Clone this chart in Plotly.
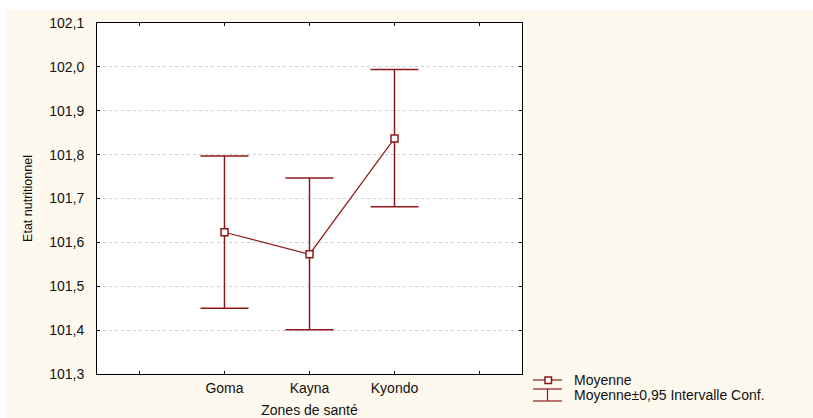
import plotly.graph_objects as go

# ---- data ----
zones = ["Goma", "Kayna", "Kyondo"]
axis_categories = [" ", "Goma", "Kayna", "Kyondo", "  "]
moyenne = [101.623, 101.573, 101.837]
ic_haut = [101.797, 101.747, 101.994]
ic_bas = [101.450, 101.401, 101.681]
y_ticks = [101.3, 101.4, 101.5, 101.6, 101.7, 101.8, 101.9, 102.0, 102.1]

W, H = 813, 418
L, R, T, B = 97, 291, 23, 44
PW, PH = W - L - R, H - T - B

def px(x):
    return (x - L) / PW

def py(y):
    return (H - B - y) / PH

RED = "#8C1A1A"
CREAM = "#FEF9EF"
FONT = "Liberation Sans, Arial, sans-serif"

err_plus = [h - m for h, m in zip(ic_haut, moyenne)]
err_minus = [m - b for m, b in zip(moyenne, ic_bas)]

fig = go.Figure()
fig.add_trace(go.Scatter(
    x=zones, y=moyenne, mode="lines+markers",
    line=dict(color=RED, width=1.2),
    marker=dict(symbol="square", size=7, color="white", line=dict(color=RED, width=1.5)),
    error_y=dict(type="data", symmetric=False, array=err_plus, arrayminus=err_minus,
                 color=RED, thickness=1.5, width=24),
    showlegend=False,
))

shapes = [
    dict(type="rect", xref="paper", yref="paper", x0=px(0), x1=px(W), y0=py(10), y1=py(0),
         fillcolor="white", line=dict(width=0), layer="below"),
    dict(type="rect", xref="paper", yref="paper", x0=px(0), x1=px(6), y0=py(H), y1=py(0),
         fillcolor="white", line=dict(width=0), layer="below"),
    # legend symbols
    dict(type="line", xref="paper", yref="paper", x0=px(533), x1=px(562), y0=py(380), y1=py(380),
         line=dict(color=RED, width=1.2)),
    dict(type="rect", xref="paper", yref="paper", x0=px(545), x1=px(551.5), y0=py(383.5), y1=py(377),
         fillcolor="white", line=dict(color=RED, width=1.5)),
    dict(type="line", xref="paper", yref="paper", x0=px(533), x1=px(562), y0=py(389), y1=py(389),
         line=dict(color=RED, width=1.2)),
    dict(type="line", xref="paper", yref="paper", x0=px(547.5), x1=px(547.5), y0=py(389), y1=py(401),
         line=dict(color=RED, width=1.2)),
    dict(type="line", xref="paper", yref="paper", x0=px(533), x1=px(562), y0=py(401), y1=py(401),
         line=dict(color=RED, width=1.2)),
]

annotations = [
    dict(text="Moyenne", xref="paper", yref="paper", x=px(572), y=py(380),
         xanchor="left", yanchor="middle", showarrow=False, font=dict(family=FONT, size=14, color="#111")),
    dict(text="Moyenne±0,95 Intervalle Conf.", xref="paper", yref="paper", x=px(572), y=py(395),
         xanchor="left", yanchor="middle", showarrow=False, font=dict(family=FONT, size=14, color="#111")),
]

fig.update_layout(
    width=W, height=H,
    margin=dict(l=L, r=R, t=T, b=B, autoexpand=False),
    paper_bgcolor=CREAM, plot_bgcolor="white",
    separators=", ",
    font=dict(family=FONT, size=14, color="#111"),
    shapes=shapes, annotations=annotations,
    showlegend=False,
)
fig.update_xaxes(
    type="category", categoryorder="array", categoryarray=axis_categories,
    range=[-0.5, 4.5], showgrid=False, zeroline=False,
    showline=True, linecolor="black", linewidth=1, mirror="allticks",
    ticks="inside", ticklen=3, tickcolor="black",
    ticklabelstandoff=1, tickfont=dict(size=14),
    title=dict(text="Zones de santé", standoff=10, font=dict(size=14)),
    automargin=False,
)
fig.update_yaxes(
    range=[101.3, 102.1], tickvals=y_ticks, tickformat=".1f",
    showgrid=True, gridcolor="#CFCFCF", griddash="dot", gridwidth=1,
    zeroline=False, showline=True, linecolor="black", linewidth=1, mirror="allticks",
    ticks="inside", ticklen=3, tickcolor="black",
    ticklabelstandoff=9, tickfont=dict(size=14),
    title=dict(text="Etat nutritionnel", standoff=13, font=dict(size=12.5)),
    automargin=False,
)

fig.write_html("out.html")
